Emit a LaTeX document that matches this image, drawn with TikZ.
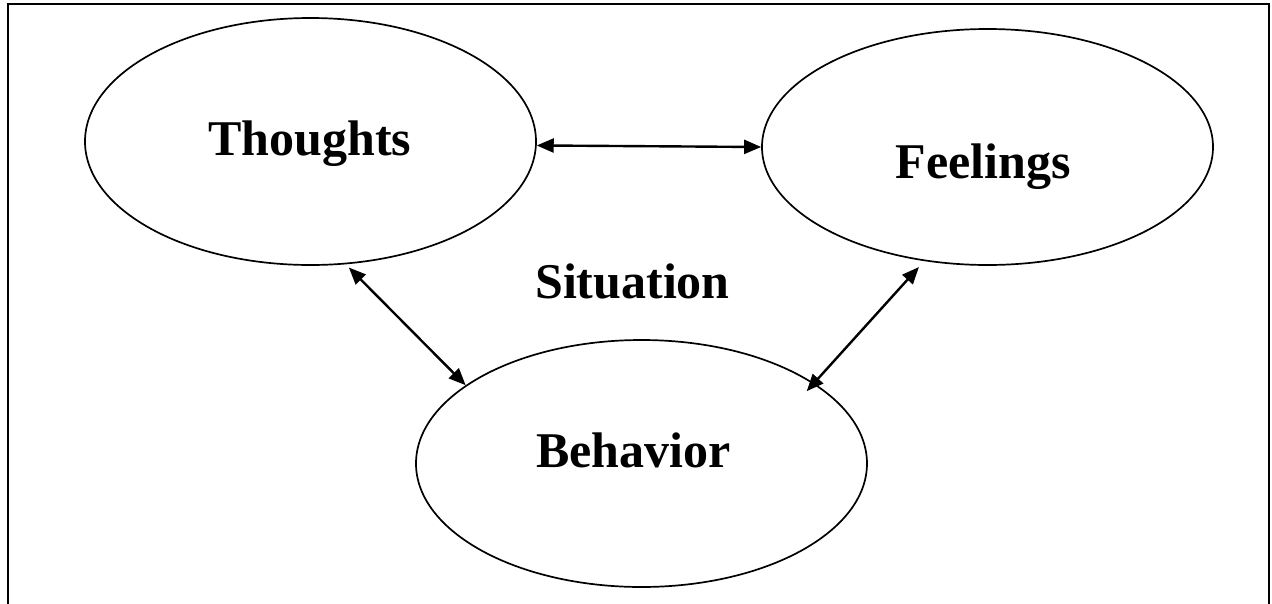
\documentclass[tikz,border=0pt]{standalone}
\usepackage{fontspec}
\setmainfont{Liberation Serif}
\usetikzlibrary{shapes.geometric,arrows.meta}
\tikzset{
  oval/.style={draw, ellipse, line width=1.7pt, inner sep=0pt},
  lbl/.style={anchor=base, inner sep=0pt, font=\fontsize{50}{60}\selectfont\bfseries},
  arr/.style={line width=2.4pt, {Triangle[length=17pt,width=14pt]}-{Triangle[length=17pt,width=14pt]}},
  frame/.style={line width=2.5pt}
}
\begin{document}
\begin{tikzpicture}[x=1pt,y=-1pt]
\useasboundingbox (0,0) rectangle (1272,603);
\draw[frame] (8,615) -- (8,4) -- (1269,4) -- (1269,615);
\node[oval, minimum width=451pt, minimum height=247pt] (T) at (310.5,141.5) {};
\node[oval, minimum width=451pt, minimum height=236pt] (F) at (987.5,147) {};
\node[oval, minimum width=451pt, minimum height=247pt] (B) at (641.5,463.5) {};
\node[lbl] (tT) at (310,155) {Thoughts};
\node[lbl] (tF) at (983,178) {Feelings};
\node[lbl] (tS) at (632.5,298) {Situation};
\node[lbl] (tB) at (633.5,467) {Behavior};
\draw[arr] (T.-1.65) -- (F.west);
\draw[arr, shorten <=4.5pt] (T.-74.7) -- (B.156.8);
\draw[arr, shorten <=8pt, shorten >=-11pt] (F.241.9) -- (B.25.6);
\end{tikzpicture}
\end{document}
